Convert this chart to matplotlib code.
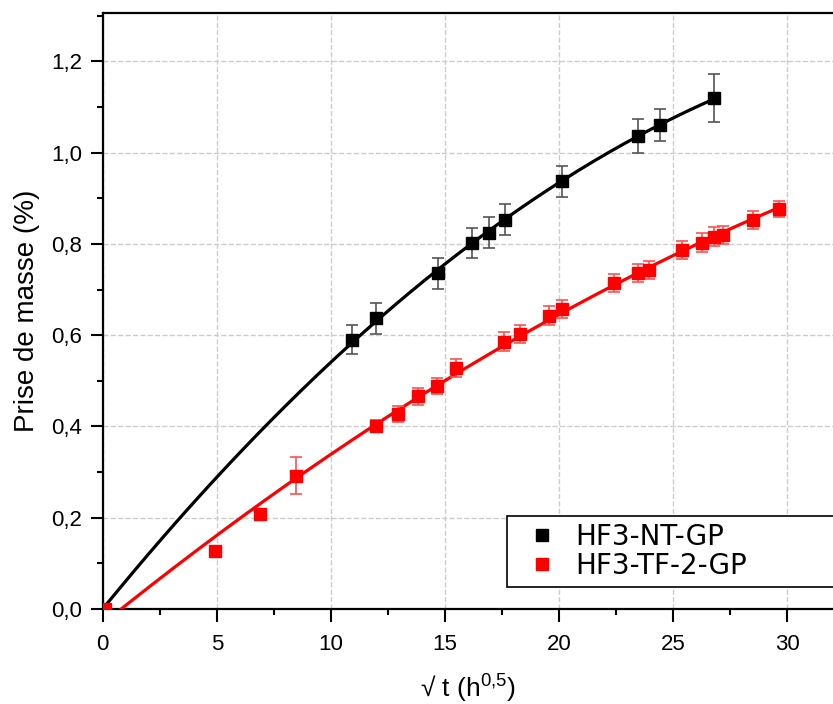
import numpy as np
import matplotlib.pyplot as plt
from matplotlib.ticker import MultipleLocator, FuncFormatter
from matplotlib.lines import Line2D

# data
x_nt = [10.92, 11.96, 14.69, 16.19, 16.92, 17.62, 20.13, 23.44, 24.43, 26.77]
y_nt = [0.590, 0.637, 0.736, 0.802, 0.824, 0.853, 0.937, 1.037, 1.061, 1.120]
err_nt = [0.032, 0.034, 0.034, 0.033, 0.034, 0.034, 0.034, 0.037, 0.035, 0.053]

x_tf = [0.1, 4.91, 6.91, 8.49, 11.96, 12.94, 13.81, 14.64, 15.46, 17.6, 18.29,
        19.55, 20.13, 22.42, 23.44, 23.92, 25.38, 26.28, 26.8, 27.16, 28.5, 29.65]
y_tf = [0.0, 0.127, 0.209, 0.292, 0.402, 0.427, 0.466, 0.488, 0.528, 0.586, 0.602,
        0.643, 0.657, 0.714, 0.736, 0.743, 0.786, 0.803, 0.816, 0.820, 0.852, 0.877]
err_tf = [0, 0, 0, 0.040, 0.012, 0.018, 0.018, 0.018, 0.02, 0.02, 0.02,
          0.02, 0.02, 0.02, 0.02, 0.02, 0.02, 0.02, 0.02, 0.02, 0.02, 0.018]

labels = ['HF3-NT-GP', 'HF3-TF-2-GP']

plt.rcParams['font.family'] = ['Liberation Sans', 'DejaVu Sans']
plt.rcParams['mathtext.default'] = 'regular'

fig = plt.figure(figsize=(8.33, 7.04), dpi=100)
ax = fig.add_axes([0.1233, 0.135, 0.8767, 0.8465])

# fitted curves (least squares on the data above)
xn = np.array(x_nt)
A = np.column_stack([xn, xn ** 2])
coef_nt = np.linalg.lstsq(A, np.array(y_nt), rcond=None)[0]
xs = np.linspace(0, max(x_nt), 200)
ax.plot(xs, coef_nt[0] * xs + coef_nt[1] * xs ** 2, color='black', lw=2.3, zorder=3)

coef_tf = np.polyfit(x_tf, y_tf, 2)
xs2 = np.linspace(0, max(x_tf), 200)
ax.plot(xs2, np.polyval(coef_tf, xs2), color='red', lw=2.3, zorder=3)

ax.errorbar(x_nt, y_nt, yerr=err_nt, fmt='s', color='black', ms=9,
            ecolor='#555555', elinewidth=1.2, capsize=4, capthick=1.2, zorder=4)
ax.errorbar(x_tf, y_tf, yerr=err_tf, fmt='s', color='red', ms=9,
            ecolor='#ff5050', elinewidth=1.2, capsize=4, capthick=1.2, zorder=4)

ax.set_xlim(0, 32)
ax.set_ylim(0, 1.306)
ax.xaxis.set_major_locator(MultipleLocator(5))
ax.xaxis.set_minor_locator(MultipleLocator(2.5))
ax.yaxis.set_major_locator(MultipleLocator(0.2))
ax.yaxis.set_minor_locator(MultipleLocator(0.1))
ax.yaxis.set_major_formatter(FuncFormatter(lambda v, p: f'{v:.1f}'.replace('.', ',')))
ax.tick_params(which='major', direction='out', length=9, width=1.5, labelsize=16)
ax.tick_params(axis='y', which='major', pad=6)
ax.tick_params(axis='x', which='major', pad=9)
ax.tick_params(which='minor', direction='out', length=4.5, width=1.5)
ax.grid(True, which='major', ls='--', color='#cccccc', lw=1)
ax.set_axisbelow(True)
for s in ['left', 'bottom', 'top']:
    ax.spines[s].set_linewidth(1.6)
ax.spines['right'].set_visible(False)

ax.set_xlabel('√ t (h$^{0{,}5}$)', fontsize=19, labelpad=13)
ax.set_ylabel('Prise de masse (%)', fontsize=20, labelpad=8)

handles = [Line2D([], [], ls='none', marker='s', ms=9, color='black'),
           Line2D([], [], ls='none', marker='s', ms=9, color='red')]
leg = ax.legend(handles, labels, loc='lower left', mode='expand',
                bbox_to_anchor=(0.5536, 0.0369, 0.55, 0.124),
                prop={'family': 'DejaVu Sans', 'size': 20},
                frameon=True, fancybox=False, edgecolor='black', framealpha=1,
                handletextpad=0.2, borderpad=0.25, labelspacing=0.05,
                handlelength=2.0, borderaxespad=0)
leg.get_frame().set_linewidth(1.2)

fig.savefig('out.png', dpi=100)
